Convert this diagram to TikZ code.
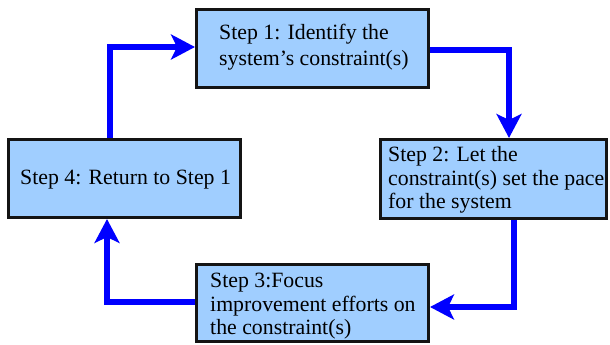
\documentclass[tikz,border=0pt]{standalone}
\usepackage{fontspec}
\setmainfont{Liberation Serif}
\usetikzlibrary{arrows.meta,calc}
\definecolor{boxfill}{RGB}{160,206,255}
\definecolor{boxline}{RGB}{20,20,20}
\definecolor{arrblue}{RGB}{0,0,255}
\begin{document}
\begin{tikzpicture}[x=1pt,y=-1pt,
  box/.style={draw=boxline,fill=boxfill,line width=3pt,rectangle,inner sep=0pt},
  txt/.style={anchor=north west,inner sep=0pt,align=left},
  arr/.style={draw=arrblue,line width=6pt,line join=miter,
    -{Stealth[length=24pt,width=25pt,inset=6pt]}}]
\useasboundingbox (0,0) rectangle (610,345);
\fill[white] (0,0) rectangle (610,345);
% boxes
\node[box,minimum width=232pt,minimum height=78pt] (b1) at (312.5,48.5) {};
\node[box,minimum width=226pt,minimum height=79pt] (b2) at (493.5,179) {};
\node[box,minimum width=232pt,minimum height=77pt] (b3) at (312.5,303) {};
\node[box,minimum width=232pt,minimum height=78pt] (b4) at (124.5,178.5) {};
% texts
\node[txt,font={\fontsize{21.8}{25.5}\selectfont}] (t1) at (219,23.5)
  {\rule{0pt}{16pt}Step 1: Identify the\\system's constraint(s)};
\node[txt,font={\fontsize{21.8}{23.3}\selectfont}] (t2) at (388,145.7)
  {\rule{0pt}{16pt}Step 2: Let the\\constraint(s) set the pace\\for the system};
\node[txt,font={\fontsize{21.8}{23.5}\selectfont}] (t3) at (210,271.3)
  {\rule{0pt}{16pt}Step 3:Focus\\improvement efforts on\\the constraint(s)};
\node[txt,font={\fontsize{21.8}{23.5}\selectfont}] (t4) at (20,168)
  {\rule{0pt}{16pt}Step 4: Return to Step 1};
% connectors
\draw[arr] ($(b4.north west)+(103,0)$) |- ($(b1.west)+(0,-1.5)$);
\draw[arr] ($(b1.east)+(0,1.5)$) -| ($(b2.north west)+(130,0)$);
\draw[arr] ($(b2.south west)+(135,0)$) |- ($(b3.east)+(0,4)$);
\draw[arr] ($(b3.west)+(0,-1)$) -| ($(b4.south west)+(100,0)$);
\end{tikzpicture}
\end{document}
